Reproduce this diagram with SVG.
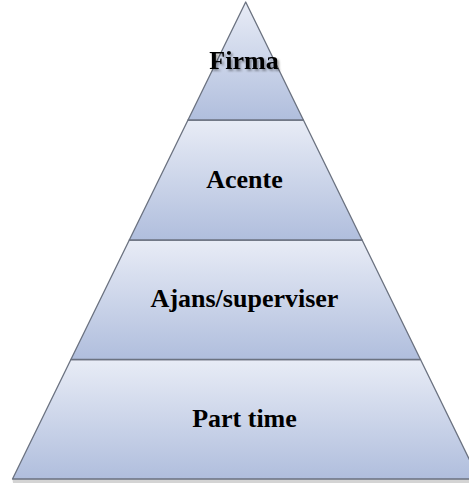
<svg xmlns="http://www.w3.org/2000/svg" width="469" height="484" viewBox="0 0 469 484">
<defs>
<linearGradient id="g" x1="0" y1="0" x2="0" y2="1">
<stop offset="0" stop-color="#e8ecf6"/>
<stop offset="1" stop-color="#b0bedd"/>
</linearGradient>
<filter id="sh" x="-10%" y="-10%" width="130%" height="140%">
<feGaussianBlur in="SourceAlpha" stdDeviation="1"/>
<feOffset dx="1.5" dy="2" result="b"/>
<feFlood flood-color="#000" flood-opacity="0.35"/>
<feComposite in2="b" operator="in"/>
<feMerge><feMergeNode/><feMergeNode in="SourceGraphic"/></feMerge>
</filter>
</defs>
<style>
.layer{fill:url(#g);stroke:#6b7280;stroke-width:1.3;stroke-linejoin:round}
.lbl{font-family:"Liberation Serif","Times New Roman",serif;font-weight:bold;font-size:26px;fill:#000;text-anchor:middle}
</style>
<rect width="469" height="484" fill="#fff"/>
<polygon points="12.5,479 478.9,479 478.9,483 13,483" fill="#c9c9c9" opacity="0.8"/>
<g id="part-time">
<polygon class="layer" points="70.9,359.5 420.5,359.5 478.9,479 12.5,479"/>
<text class="lbl" x="244.5" y="427">Part time</text>
</g>
<g id="ajans">
<polygon class="layer" points="129.3,240 362.1,240 420.5,359.5 70.9,359.5"/>
<text class="lbl" x="244.5" y="307">Ajans/superviser</text>
</g>
<g id="acente">
<polygon class="layer" points="188,120 303.4,120 362.1,240 129.3,240"/>
<text class="lbl" x="244.5" y="187.5">Acente</text>
</g>
<g id="firma">
<polygon class="layer" points="245.7,2 303.4,120 188,120"/>
<text class="lbl" x="244" y="68.5" filter="url(#sh)">Firma</text>
</g>
<g id="connectors"/>
</svg>
